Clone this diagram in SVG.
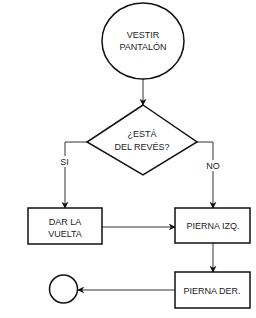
<svg xmlns="http://www.w3.org/2000/svg" width="256" height="318" viewBox="0 0 256 318">
<style>
.s{fill:#fff;stroke:#111;stroke-width:1.5}
.t{font-family:"Liberation Sans",Arial,sans-serif;font-size:9px;fill:#222;text-anchor:middle}
.c{fill:none;stroke:#333;stroke-width:1}
</style>
<defs>
<marker id="a" viewBox="0 0 10 10" refX="9" refY="5" markerWidth="7" markerHeight="7" orient="auto" markerUnits="userSpaceOnUse">
<path d="M0,0 L10,5 L0,10 L3,5 Z" fill="#111"/>
</marker>
</defs>
<rect width="256" height="318" fill="#fff"/>
<g id="connectors">
<path class="c" d="M143,79 L143,105" marker-end="url(#a)"/>
<path class="c" d="M87,142 L65,142 L65,208" marker-end="url(#a)"/>
<path class="c" d="M197,142 L213,142 L213,208" marker-end="url(#a)"/>
<path class="c" d="M102,227 L175,227" marker-end="url(#a)"/>
<path class="c" d="M213,243 L213,272" marker-end="url(#a)"/>
<path class="c" d="M175,290 L78,290" marker-end="url(#a)"/>
<rect x="58" y="156" width="13" height="11" fill="#fff"/>
<text class="t" x="64.5" y="165">SI</text>
<rect x="205" y="160" width="16" height="11" fill="#fff"/>
<text class="t" x="213" y="169">NO</text>
</g>
<g id="start">
<ellipse class="s" cx="143" cy="41" rx="41" ry="38"/>
<text class="t" x="143" y="38">VESTIR</text>
<text class="t" x="143" y="50">PANTALÓN</text>
</g>
<g id="decision">
<polygon class="s" points="143,105 197,142 143,175 87,142"/>
<text class="t" x="142" y="136.5">¿ESTÁ</text>
<text class="t" x="142" y="150">DEL REVÉS?</text>
</g>
<g id="dar">
<rect class="s" x="28" y="208" width="74" height="36"/>
<text class="t" x="65" y="225">DAR LA</text>
<text class="t" x="65" y="237">VUELTA</text>
</g>
<g id="izq">
<rect class="s" x="175" y="208" width="75" height="35"/>
<text class="t" x="213" y="229">PIERNA IZQ.</text>
</g>
<g id="der">
<rect class="s" x="175" y="272" width="75" height="36"/>
<text class="t" x="212" y="294">PIERNA DER.</text>
</g>
<g id="end">
<circle class="s" cx="63.5" cy="289" r="14"/>
</g>
</svg>
